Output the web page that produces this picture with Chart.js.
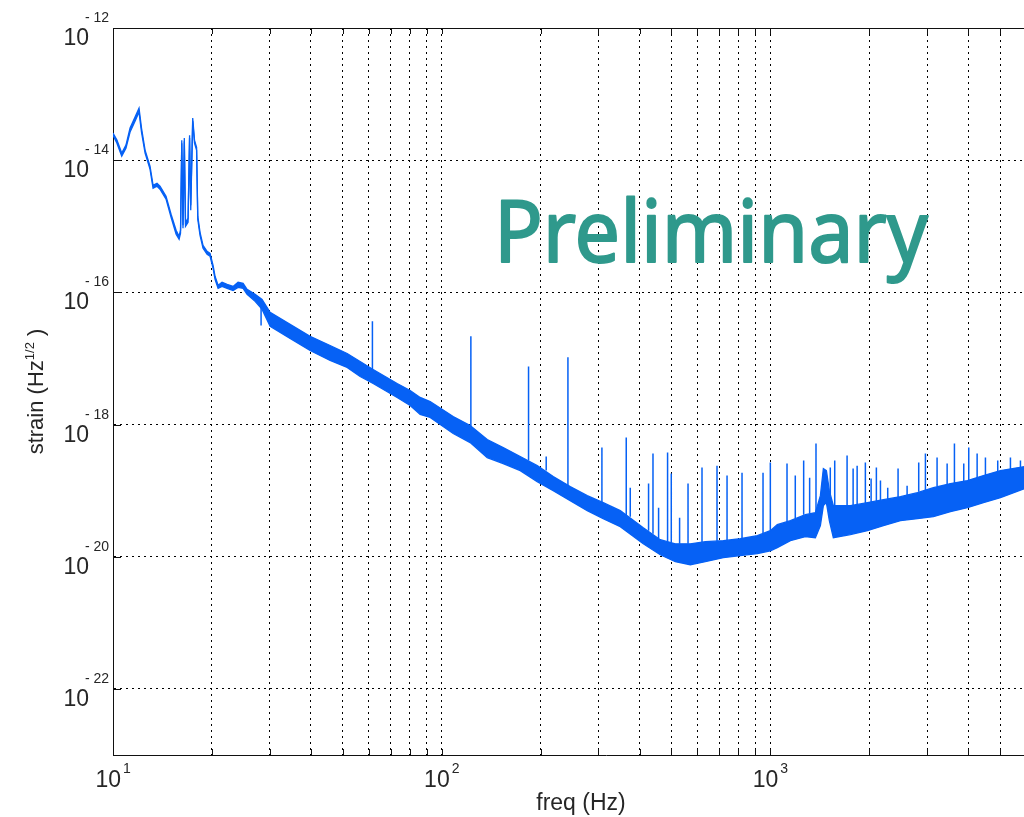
<!DOCTYPE html>
<html>
<head>
<meta charset="utf-8">
<title>strain spectrum</title>
<script src="https://cdn.jsdelivr.net/npm/chart.js@4.4.0/dist/chart.umd.min.js"></script>
<style>
  html, body { margin: 0; padding: 0; background: #fff; overflow: hidden; }
  #wrap { width: 1130px; height: 817px; }
</style>
</head>
<body>
<div id="wrap"><canvas id="grafico" width="1130" height="817"></canvas></div>
<script>
// faixa de ruido (borda de cima e de baixo)
const bandFreq = [10, 10.28, 10.63, 10.95, 11.27, 11.67, 12.00, 12.21, 12.52, 12.96,
  13.24, 13.61, 13.90, 14.50, 15.02, 15.56, 15.89, 16.05, 16.19, 16.33,
  16.48, 16.62, 16.92, 17.10, 17.24, 17.48, 17.70, 17.96, 18.11, 18.40,
  18.79, 19.33, 19.74, 20.16, 20.44, 20.88, 21.47, 22.24, 23.19, 24.02,
  24.88, 25.58, 27.06, 28.42, 30.06, 34.58, 39.78, 45.77, 51.57, 56.48,
  61.87, 67.30, 73.20, 80.19, 86.00, 92.25, 108.4, 122.1, 137.6, 153.9,
  173.4, 195.3, 218.5, 246.1, 277.3, 310.1, 349.5, 410.6, 462.5, 513.9,
  570.8, 634.2, 719.4, 810.4, 912.9, 1000, 1050, 1151, 1278, 1371,
  1420, 1450, 1481, 1512, 1555, 1752, 1974, 2208, 2488, 2803,
  3134, 3532, 3978, 4450, 5014, 5933, 7636, 10000];
const bandUpper = [2.57e-14, 2.01e-14, 1.28e-14, 1.69e-14, 3.06e-14, 4.48e-14, 6.14e-14, 3.06e-14, 1.42e-14, 8.11e-15,
  4.18e-15, 4.48e-15, 4.04e-15, 2.85e-15, 1.52e-15, 8.70e-16, 7.06e-16, 8.70e-16, 2.01e-14, 1.04e-15,
  2.16e-14, 1.15e-15, 1.32e-15, 2.39e-14, 2.08e-15, 4.33e-14, 2.01e-14, 1.57e-14, 1.42e-15, 8.11e-16,
  5.15e-16, 4.18e-16, 3.90e-16, 2.57e-16, 1.75e-16, 1.28e-16, 1.42e-16, 1.32e-16, 1.23e-16, 1.42e-16,
  1.37e-16, 1.11e-16, 9.33e-17, 7.83e-17, 4.98e-17, 3.28e-17, 2.16e-17, 1.57e-17, 1.19e-17, 9.01e-18,
  6.81e-18, 5.34e-18, 4.18e-18, 3.28e-18, 2.57e-18, 2.23e-18, 1.32e-18, 9.66e-19, 5.93e-19, 4.48e-19,
  3.28e-19, 2.39e-19, 1.63e-19, 1.15e-19, 8.40e-20, 6.58e-20, 4.98e-20, 2.75e-20, 1.81e-20, 1.57e-20,
  1.57e-20, 1.69e-20, 1.75e-20, 1.87e-20, 2.08e-20, 2.48e-20, 3.06e-20, 3.51e-20, 4.33e-20, 4.64e-20,
  8.40e-20, 2.16e-19, 2.01e-19, 1.00e-19, 5.93e-20, 5.93e-20, 6.58e-20, 7.31e-20, 8.11e-20, 9.33e-20,
  1.11e-19, 1.28e-19, 1.42e-19, 1.69e-19, 2.01e-19, 2.31e-19, 2.66e-19, 3.16e-19];
const bandLower = [2.39e-14, 1.81e-14, 1.15e-14, 1.52e-14, 2.66e-14, 3.90e-14, 5.34e-14, 2.66e-14, 1.28e-14, 7.31e-15,
  3.77e-15, 4.04e-15, 3.64e-15, 2.57e-15, 1.37e-15, 7.57e-16, 6.35e-16, 7.83e-16, 1.81e-14, 9.33e-16,
  1.94e-14, 1.00e-15, 1.15e-15, 2.16e-14, 1.75e-15, 3.90e-14, 1.81e-14, 1.42e-14, 1.28e-15, 7.31e-16,
  4.64e-16, 3.77e-16, 3.51e-16, 2.31e-16, 1.57e-16, 1.15e-16, 1.23e-16, 1.15e-16, 1.07e-16, 1.19e-16,
  1.15e-16, 9.33e-17, 7.31e-17, 5.53e-17, 3.06e-17, 2.01e-17, 1.32e-17, 9.33e-18, 7.31e-18, 5.34e-18,
  4.18e-18, 3.28e-18, 2.57e-18, 1.94e-18, 1.42e-18, 1.28e-18, 7.31e-19, 5.34e-19, 3.16e-19, 2.57e-19,
  2.01e-19, 1.37e-19, 1.00e-19, 7.06e-20, 4.98e-20, 3.77e-20, 2.85e-20, 1.57e-20, 1.07e-20, 8.40e-21,
  7.57e-21, 8.40e-21, 9.66e-21, 1.04e-20, 1.11e-20, 1.23e-20, 1.37e-20, 1.75e-20, 2.01e-20, 1.94e-20,
  2.95e-20, 5.93e-20, 6.58e-20, 3.51e-20, 1.94e-20, 2.16e-20, 2.48e-20, 2.95e-20, 3.51e-20, 3.77e-20,
  4.04e-20, 4.81e-20, 5.53e-20, 6.58e-20, 7.83e-20, 1.07e-19, 1.32e-19, 1.57e-19];

// linhas espectrais (picos)
const spikeFreq = [28.22, 61.56, 122.7, 183.8, 208.0, 242.2, 307.3, 364.4, 374.8, 426.1,
  439.5, 457.1, 486.8, 499.6, 529.6, 561.8, 619.6, 688.3, 738.4, 820.1,
  950.1, 1000, 1124, 1191, 1263, 1317, 1377, 1522, 1570, 1712,
  1786, 1837, 1946, 2026, 2102, 2163, 2276, 2447, 2607, 2828,
  2964, 3216, 3451, 3632, 3877, 4015, 4258, 4513, 4919, 5377, 5768];
const spikeTop = [7.57e-17, 3.64e-17, 2.16e-17, 7.57e-18, 3.28e-19, 1.04e-17, 4.48e-19, 6.35e-19, 1.11e-19, 1.28e-19,
  3.64e-19, 5.53e-20, 3.77e-19, 1.81e-19, 3.90e-20, 1.28e-19, 2.23e-19, 2.39e-19, 1.69e-19, 1.87e-19,
  1.87e-19, 2.66e-19, 2.57e-19, 1.69e-19, 2.85e-19, 1.57e-19, 5.15e-19, 2.23e-19, 2.85e-19, 3.39e-19,
  2.16e-19, 2.39e-19, 2.66e-19, 1.52e-19, 2.23e-19, 1.42e-19, 1.11e-19, 2.16e-19, 1.19e-19, 2.66e-19,
  3.64e-19, 3.16e-19, 2.57e-19, 5.15e-19, 2.57e-19, 4.48e-19, 3.64e-19, 3.16e-19, 2.85e-19, 3.16e-19, 2.85e-19];
const spikeBase = [3.16e-17, 6.14e-18, 8.70e-19, 2.85e-19, 2.01e-19, 1.19e-19, 6.58e-20, 4.18e-20, 4.04e-20, 2.48e-20,
  2.23e-20, 1.87e-20, 1.69e-20, 1.63e-20, 1.57e-20, 1.57e-20, 1.63e-20, 1.69e-20, 1.75e-20, 1.87e-20,
  2.23e-20, 2.48e-20, 3.39e-20, 3.77e-20, 4.33e-20, 4.48e-20, 4.64e-20, 8.40e-20, 5.93e-20, 5.93e-20,
  5.93e-20, 6.14e-20, 6.35e-20, 6.58e-20, 6.81e-20, 7.06e-20, 7.31e-20, 7.83e-20, 8.40e-20, 9.66e-20,
  1.00e-19, 1.15e-19, 1.19e-19, 1.28e-19, 1.37e-19, 1.42e-19, 1.52e-19, 1.69e-19, 1.94e-19, 2.08e-19, 2.23e-19];

// eixos
const xTicks = [10, 20, 30, 40, 50, 60, 70, 80, 90,
  100, 200, 300, 400, 500, 600, 700, 800, 900,
  1000, 2000, 3000, 4000, 5000, 6000, 7000, 8000, 9000, 10000];
const xLabelVals = [10, 100, 1000, 10000];
const xLabelExp = ['1', '2', '3', '4'];
const yTicks = [1e-22, 1e-20, 1e-18, 1e-16, 1e-14, 1e-12];
const yLabelExp = ['- 22', '- 20', '- 18', '- 16', '- 14', '- 12'];

const azul = '#0661f5';
const verde = '#2f998c';
const corTexto = '#262626';
const fonte = '"Liberation Sans", Arial, sans-serif';

var spikeData = [];
spikeFreq.forEach(function(f, i) {
    spikeData.push({x: f, y: spikeBase[i]}, {x: f, y: spikeTop[i]}, {x: f, y: null});
});

const decoracao = {
    id: 'decoracao',
    afterDraw(chart) {
        const ctx = chart.ctx;
        const area = chart.chartArea;
        const sx = chart.scales.x;
        const sy = chart.scales.y;
        ctx.save();

        // moldura de cima e da direita
        ctx.strokeStyle = '#111';
        ctx.lineWidth = 1;
        ctx.setLineDash([]);
        ctx.beginPath();
        ctx.moveTo(area.left, Math.round(area.top) + 0.5);
        ctx.lineTo(area.right, Math.round(area.top) + 0.5);
        ctx.moveTo(Math.round(area.right) - 0.5, area.top);
        ctx.lineTo(Math.round(area.right) - 0.5, area.bottom);

        // marcas para dentro
        xTicks.forEach(function(v) {
            const px = Math.round(sx.getPixelForValue(v)) + 0.5;
            ctx.moveTo(px, area.bottom);
            ctx.lineTo(px, area.bottom - 6);
            ctx.moveTo(px, area.top);
            ctx.lineTo(px, area.top + 6);
        });
        yTicks.forEach(function(v) {
            const py = Math.round(sy.getPixelForValue(v)) + 0.5;
            ctx.moveTo(area.left, py);
            ctx.lineTo(area.left + 8, py);
        });
        ctx.stroke();

        ctx.fillStyle = corTexto;
        ctx.textBaseline = 'alphabetic';

        // rotulos do eixo x: 10 com expoente
        xLabelVals.forEach(function(v, i) {
            const px = sx.getPixelForValue(v);
            ctx.font = '23px ' + fonte;
            ctx.textAlign = 'right';
            ctx.fillText('10', px + 8, 787);
            ctx.font = '14px ' + fonte;
            ctx.textAlign = 'left';
            ctx.fillText(xLabelExp[i], px + 10, 773);
        });

        // rotulos do eixo y
        yTicks.forEach(function(v, i) {
            const py = sy.getPixelForValue(v);
            ctx.font = '23px ' + fonte;
            ctx.textAlign = 'right';
            ctx.fillText('10', 89, py + 17);
            ctx.font = '14px ' + fonte;
            ctx.textAlign = 'left';
            ctx.fillText(yLabelExp[i], 85, py - 6);
        });

        // titulo do eixo x
        ctx.font = '23px ' + fonte;
        ctx.textAlign = 'center';
        ctx.fillText('freq (Hz)', 581, 810);

        // titulo do eixo y (com expoente 1/2)
        ctx.save();
        ctx.translate(43, (area.top + area.bottom) / 2);
        ctx.rotate(-Math.PI / 2);
        ctx.textAlign = 'left';
        ctx.font = '22px ' + fonte;
        const p1 = 'strain (Hz', p3 = ' )';
        const w1 = ctx.measureText(p1).width;
        const w3 = ctx.measureText(p3).width;
        ctx.font = '13px ' + fonte;
        const p2 = '1/2';
        const w2 = ctx.measureText(p2).width;
        let cx = -(w1 + w2 + w3) / 2;
        ctx.font = '22px ' + fonte;
        ctx.fillText(p1, cx, 0);
        cx += w1;
        ctx.font = '13px ' + fonte;
        ctx.fillText(p2, cx, -9);
        cx += w2;
        ctx.font = '22px ' + fonte;
        ctx.fillText(p3, cx, 0);
        ctx.restore();

        // marca d'agua
        ctx.fillStyle = verde;
        ctx.strokeStyle = verde;
        ctx.lineWidth = 2;
        ctx.lineJoin = 'round';
        ctx.font = '86px "Noto Sans", sans-serif';
        ctx.textAlign = 'left';
        ctx.fillText('Preliminary', 494, 262, 434);
        ctx.strokeText('Preliminary', 494, 262, 434);

        ctx.restore();
    }
};

const ctx = document.getElementById('grafico').getContext('2d');
const grafico = new Chart(ctx, {
    type: 'line',
    data: {
        datasets: [
            {
                label: 'faixa superior',
                data: bandFreq.map(function(f, i) { return {x: f, y: bandUpper[i]}; }),
                borderColor: azul,
                backgroundColor: azul,
                borderWidth: 1.3,
                pointRadius: 0,
                tension: 0,
                fill: '+1'
            },
            {
                label: 'faixa inferior',
                data: bandFreq.map(function(f, i) { return {x: f, y: bandLower[i]}; }),
                borderColor: azul,
                borderWidth: 1.3,
                pointRadius: 0,
                tension: 0,
                fill: false
            },
            {
                label: 'linhas',
                data: spikeData,
                borderColor: azul,
                borderWidth: 1.5,
                pointRadius: 0,
                tension: 0,
                spanGaps: false,
                fill: false
            }
        ]
    },
    options: {
        responsive: false,
        animation: false,
        layout: { padding: { left: 113, top: 28, right: 31, bottom: 62 } },
        plugins: {
            legend: { display: false },
            tooltip: { enabled: false }
        },
        scales: {
            x: {
                type: 'logarithmic',
                min: 10,
                max: 10000,
                afterBuildTicks: function(scale) {
                    scale.ticks = xTicks.map(function(v) { return {value: v}; });
                },
                ticks: { display: false },
                grid: { color: '#000', lineWidth: 1, drawTicks: false },
                border: { display: true, color: '#111', width: 1, dash: [2, 4] }
            },
            y: {
                type: 'logarithmic',
                min: 1e-23,
                max: 1e-12,
                afterBuildTicks: function(scale) {
                    scale.ticks = yTicks.map(function(v) { return {value: v}; });
                },
                ticks: { display: false },
                grid: { color: '#000', lineWidth: 1, drawTicks: false },
                border: { display: true, color: '#111', width: 1, dash: [2, 4] }
            }
        }
    },
    plugins: [decoracao]
});
</script>
</body>
</html>
